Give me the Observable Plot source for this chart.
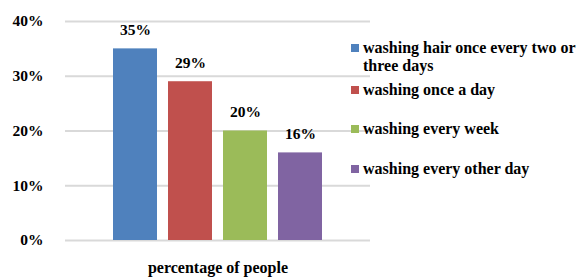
<!DOCTYPE html>
<html>
<head>
<meta charset="utf-8">
<script src="https://cdn.jsdelivr.net/npm/d3@7"></script>
<script src="https://cdn.jsdelivr.net/npm/@observablehq/plot@0.6"></script>
<style>
  body { margin: 0; background: #fff; }
  #wrap { position: relative; width: 576px; height: 277px; overflow: hidden; font-family: 'Liberation Serif', serif; font-weight: bold; color: #000; }
  #wrap svg text { font-family: 'Liberation Serif', serif; font-weight: bold; }
  .leg { position: absolute; left: 351px; display: flex; align-items: flex-start; font-family: 'Liberation Serif', serif; font-weight: bold; font-size: 16px; line-height: 18px; }
  .sw { width: 8px; height: 8px; margin-top: 5px; margin-right: 4px; flex: none; }
  .lt { width: 220px; }
</style>
</head>
<body>
<div id="wrap"></div>
<script>
const categories = ["washing hair once every two or three days", "washing once a day", "washing every week", "washing every other day"];
const values = [0.35, 0.29, 0.20, 0.16];
const colors = ["#4f81bd", "#c0504d", "#9bbb59", "#8064a2"];
const yTicks = [0, 0.1, 0.2, 0.3, 0.4];
const xLabel = "percentage of people";

const data = categories.map((c, i) => ({cat: c, value: values[i]}));
const pct = d3.format(".0%");

const chart = Plot.plot({
  width: 576,
  height: 277,
  marginLeft: 65,
  marginRight: 206,
  marginTop: 21,
  marginBottom: 37,
  style: {fontFamily: "'Liberation Serif', serif", fontSize: "15.5px", fontWeight: "bold", color: "#000", background: "transparent"},
  x: {domain: categories, paddingInner: 0.2, paddingOuter: 0.85, axis: null},
  y: {domain: [0, 0.4]},
  color: {domain: categories, range: colors},
  marks: [
    Plot.gridY(yTicks, {stroke: "#d9d9d9", strokeOpacity: 1, strokeWidth: 2}),
    Plot.axisY(yTicks, {tickSize: 0, tickPadding: 22, label: null, tickFormat: pct, fontSize: 15.5}),
    Plot.barY(data, {x: "cat", y: "value", fill: "cat"}),
    Plot.text(data, {x: "cat", y: "value", text: d => pct(d.value), dy: -19, fontSize: 15.5, fill: "#000"}),
    Plot.text([xLabel], {frameAnchor: "bottom", lineAnchor: "middle", dy: 27, fontSize: 16, fill: "#000"})
  ]
});
const wrap = document.getElementById("wrap");
wrap.appendChild(chart);

const legendTops = [39, 81, 120, 160];
categories.forEach((c, i) => {
  const item = document.createElement("div");
  item.className = "leg";
  item.style.top = legendTops[i] + "px";
  const sw = document.createElement("div");
  sw.className = "sw";
  sw.style.background = colors[i];
  const t = document.createElement("div");
  t.className = "lt";
  t.textContent = c;
  item.appendChild(sw);
  item.appendChild(t);
  wrap.appendChild(item);
});
</script>
</body>
</html>
